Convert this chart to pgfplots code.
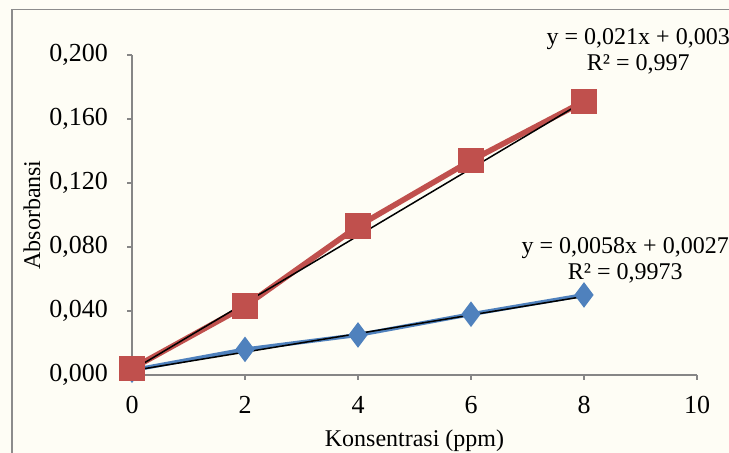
\documentclass[border=0pt]{standalone}
\usepackage{fontspec}
\setmainfont{Liberation Serif}
\usepackage{pgfplots}
\pgfplotsset{compat=1.18}
\definecolor{bgcream}{RGB}{254,253,245}
\definecolor{framegray}{RGB}{140,140,140}
\definecolor{axgray}{RGB}{134,134,134}
\definecolor{xlred}{RGB}{192,80,77}
\definecolor{xlblue}{RGB}{79,129,189}

\begin{document}
\begin{tikzpicture}
\useasboundingbox (0pt,0pt) rectangle (364.5pt,226.5pt);
\fill[bgcream] (0pt,0pt) rectangle (364.5pt,226.5pt);
\draw[framegray, line width=0.7pt] (6pt,-5pt) -- (6pt,221.75pt) -- (370pt,221.75pt);
\begin{axis}[
  at={(66pt,39pt)}, anchor=south west,
  scale only axis, width=282.5pt, height=160pt,
  axis x line=bottom, axis y line=left,
  axis line style={axgray, line width=0.65pt, -},
  xmin=0, xmax=10, ymin=0, ymax=0.2,
  xtick={0,2,4,6,8,10}, ytick={0,0.04,0.08,0.12,0.16,0.2},
  tick align=outside, major tick length=2.5pt,
  tick style={axgray, line width=0.65pt},
  /pgf/number format/assume math mode=true,
  y tick label style={xshift=-6pt, /pgf/number format/.cd, fixed, fixed zerofill, precision=3, use comma},
  x tick label style={yshift=-4.5pt},
  tick label style={font=\fontsize{13}{15}\selectfont},
  xlabel={Konsentrasi (ppm)}, ylabel={Absorbansi},
  label style={font=\fontsize{12}{14}\selectfont},
  xlabel style={at={(axis description cs:0.5,-0.206)}, anchor=center},
  ylabel style={at={(axis description cs:-0.177,0.5)}, anchor=center},
  clip=false,
]
% blue series
\addplot[xlblue, line width=2pt, mark=diamond*, mark size=4.75pt, mark options={solid}]
  coordinates {(0,0.003)(2,0.016)(4,0.025)(6,0.038)(8,0.050)};
% red series
\addplot[xlred, line width=2.8pt, mark=square*, mark size=5pt, mark options={solid}]
  coordinates {(0,0.004)(2,0.043)(4,0.093)(6,0.134)(8,0.171)};
% trendlines
\addplot[black, line width=0.75pt, no marks] coordinates {(0,0.0027)(8,0.0491)};
\addplot[black, line width=0.75pt, no marks] coordinates {(0,0.003)(8,0.171)};
\node[align=center, font=\fontsize{12}{13}\selectfont] at (axis cs:8.96,0.2025)
  {y = 0,021x + 0,003\\R² = 0,997};
\node[align=center, font=\fontsize{12}{13}\selectfont] at (axis cs:8.73,0.0719)
  {y = 0,0058x + 0,0027\\R² = 0,9973};
\end{axis}
\end{tikzpicture}
\end{document}
